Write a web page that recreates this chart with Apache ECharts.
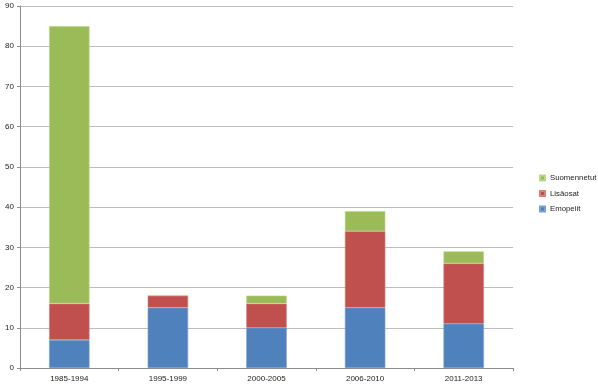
<!DOCTYPE html>
<html><head><meta charset="utf-8">
<script src="https://cdn.jsdelivr.net/npm/echarts@6/dist/echarts.min.js"></script>
<style>html,body{margin:0;padding:0;background:#fff}#c{width:598px;height:387px}</style>
</head><body><div id="c"></div>
<script>
const categories = ['1985-1994','1995-1999','2000-2005','2006-2010','2011-2013'];
const emopelit = [7, 15, 10, 15, 11];
const lisaosat = [9, 3, 6, 19, 15];
const suomennetut = [69, 0, 2, 5, 3];
const yTicks = {min: 0, max: 90, interval: 10};

const chart = echarts.init(document.getElementById('c'));
const mk = (name, data, color, border) => ({
  name, type: 'bar', stack: 'a', data, barWidth: '41%',
  itemStyle: {color, borderColor: border, borderWidth: 0.6},
  emphasis: {disabled: true}
});
chart.setOption({
  animation: false,
  grid: {left: 20, right: 85, top: 6, bottom: 19},
  legend: {
    orient: 'vertical', left: 539, top: 173, itemWidth: 5, itemHeight: 5, itemGap: 5.5,
    padding: 0,
    data: ['Suomennetut', 'Lisäosat', 'Emopelit'],
    textStyle: {fontSize: 7.8, lineHeight: 10, color: '#222', fontFamily: 'Liberation Sans'},
    icon: 'rect'
  },
  xAxis: {
    type: 'category', data: categories,
    axisLine: {lineStyle: {color: '#8c8c8c'}},
    axisTick: {show: true, length: 3, lineStyle: {color: '#8c8c8c'}},
    axisLabel: {fontSize: 8, color: '#222', fontFamily: 'Liberation Sans', margin: 7}
  },
  yAxis: {
    type: 'value', min: yTicks.min, max: yTicks.max, interval: yTicks.interval,
    axisLine: {show: true, lineStyle: {color: '#8c8c8c'}},
    axisTick: {show: true, length: 3, lineStyle: {color: '#8c8c8c'}},
    splitLine: {lineStyle: {color: '#bdbdbd'}},
    axisLabel: {fontSize: 8, color: '#222', fontFamily: 'Liberation Sans', margin: 6}
  },
  series: [
    mk('Emopelit', emopelit, '#4F81BD', '#7aa0d4'),
    mk('Lisäosat', lisaosat, '#C0504D', '#d9807d'),
    mk('Suomennetut', suomennetut, '#9BBB59', '#bcd68a')
  ]
});
</script></body></html>
